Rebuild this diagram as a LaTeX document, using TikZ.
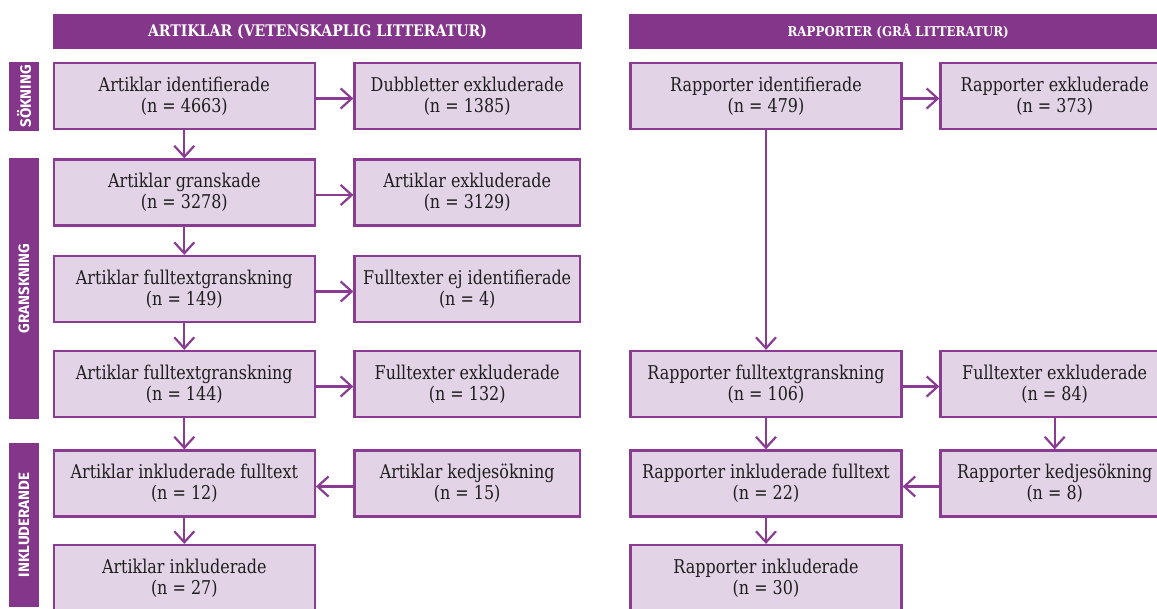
\documentclass[tikz,border=0pt]{standalone}
\usepackage{fontspec}
\setmainfont{DejaVu Serif}[FakeStretch=0.84]
\newfontfamily\hdrfont{DejaVu Serif Bold}[FakeStretch=0.88]
\newfontfamily\sidefont{Fira Sans}
\usetikzlibrary{arrows.meta}
\definecolor{hdr}{RGB}{132,54,138}
\definecolor{boxfill}{RGB}{227,211,230}
\definecolor{boxline}{RGB}{137,60,145}
\definecolor{txt}{RGB}{30,30,30}
\begin{document}
\begin{tikzpicture}[x=1pt,y=-1pt,
  flowbox/.style={draw=boxline, line width=2.2pt, fill=boxfill, minimum height=66pt,
    inner sep=0pt, align=center, text=txt, font=\fontsize{19}{21}\selectfont},
  colA/.style={minimum width=261pt},
  colB/.style={minimum width=225.5pt},
  colC/.style={minimum width=271pt},
  colD/.style={minimum width=228.5pt},
  hdrbox/.style={fill=hdr, text=white, inner sep=0pt, minimum height=35.3pt},
  sidebar/.style={fill=hdr, text=white, inner sep=0pt, rotate=90, minimum height=29.4pt,
    font=\sidefont\bfseries\fontsize{15}{15}\selectfont},
  flowarrow/.style={draw=boxline, line width=2.2pt, -{Straight Barb[length=11pt,width=20pt]}}
]
\useasboundingbox (0,0) rectangle (1157,608);
\clip (0,0) rectangle (1157,608);

% headers
\node[hdrbox, minimum width=528.4pt, font=\hdrfont\fontsize{16}{17}\selectfont]
  (h1) at (317.5,31.7) {ARTIKLAR (VETENSKAPLIG LITTERATUR)};
\node[hdrbox, minimum width=537.7pt, font=\hdrfont\fontsize{13.5}{14}\selectfont]
  (h2) at (898.2,31.7) {RAPPORTER (GRÅ LITTERATUR)};

% side bars
\node[sidebar, minimum width=68.7pt] (s1) at (24,96.3) {SÖKNING};
\node[sidebar, minimum width=261.3pt] (s2) at (24,288.3) {GRANSKNING};
\node[sidebar, minimum width=164pt] (s3) at (24,525) {INKLUDERANDE};

% left column A
\node[flowbox, colA] (a1) at (184.3,96) {Artiklar identifierade\\(n = 4663)};
\node[flowbox, colA] (a2) at (184.3,192.5) {Artiklar granskade\\(n = 3278)};
\node[flowbox, colA] (a3) at (184.3,289) {Artiklar fulltextgranskning\\(n = 149)};
\node[flowbox, colA] (a4) at (184.3,384) {Artiklar fulltextgranskning\\(n = 144)};
\node[flowbox, colA] (a5) at (184.3,483.5) {Artiklar inkluderade fulltext\\(n = 12)};
\node[flowbox, colA] (a6) at (184.3,578) {Artiklar inkluderade\\(n = 27)};

% column B
\node[flowbox, colB] (b1) at (467.2,96) {Dubbletter exkluderade\\(n = 1385)};
\node[flowbox, colB] (b2) at (467.2,192.5) {Artiklar exkluderade\\(n = 3129)};
\node[flowbox, colB] (b3) at (467.2,289) {Fulltexter ej identifierade\\(n = 4)};
\node[flowbox, colB] (b4) at (467.2,384) {Fulltexter exkluderade\\(n = 132)};
\node[flowbox, colB] (b5) at (467.2,483.5) {Artiklar kedjesökning\\(n = 15)};

% column C
\node[flowbox, colC] (c1) at (766,96) {Rapporter identifierade\\(n = 479)};
\node[flowbox, colC] (c4) at (766,384) {Rapporter fulltextgranskning\\(n = 106)};
\node[flowbox, colC] (c5) at (766,483.5) {Rapporter inkluderade fulltext\\(n = 22)};
\node[flowbox, colC] (c6) at (766,578) {Rapporter inkluderade\\(n = 30)};

% column D
\node[flowbox, colD] (d1) at (1054.7,96) {Rapporter exkluderade\\(n = 373)};
\node[flowbox, colD] (d4) at (1054.7,384) {Fulltexter exkluderade\\(n = 84)};
\node[flowbox, colD] (d5) at (1054.7,483.5) {Rapporter kedjesökning\\(n = 8)};

% arrows left
\draw[flowarrow] (a1) -- (a2);
\draw[flowarrow] (a2) -- (a3);
\draw[flowarrow] (a3) -- (a4);
\draw[flowarrow] (a4) -- (a5);
\draw[flowarrow] (a5) -- (a6);
\draw[flowarrow] ([yshift=-2.5pt]a1.east) -- ([yshift=-2.5pt]b1.west);
\draw[flowarrow] ([yshift=-2.5pt]a2.east) -- ([yshift=-2.5pt]b2.west);
\draw[flowarrow] ([yshift=-2.5pt]a3.east) -- ([yshift=-2.5pt]b3.west);
\draw[flowarrow] ([yshift=-2.5pt]a4.east) -- ([yshift=-2.5pt]b4.west);
\draw[flowarrow] ([yshift=-3pt]b5.west) -- ([yshift=-3pt]a5.east);

% arrows right
\draw[flowarrow] (c1) -- (c4);
\draw[flowarrow] (c4) -- (c5);
\draw[flowarrow] (c5) -- (c6);
\draw[flowarrow] ([yshift=-2.5pt]c1.east) -- ([yshift=-2.5pt]d1.west);
\draw[flowarrow] ([yshift=-2.5pt]c4.east) -- ([yshift=-2.5pt]d4.west);
\draw[flowarrow] (d4) -- (d5);
\draw[flowarrow] ([yshift=-3pt]d5.west) -- ([yshift=-3pt]c5.east);
\end{tikzpicture}
\end{document}
